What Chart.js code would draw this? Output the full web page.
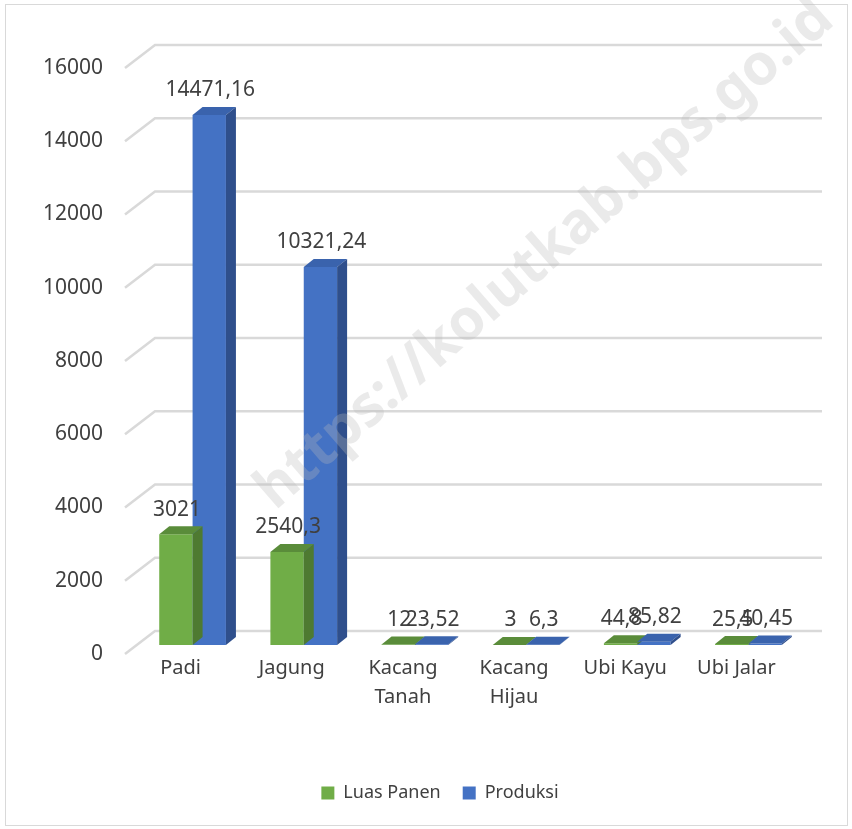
<!DOCTYPE html>
<html>
<head>
<meta charset="utf-8">
<script src="https://cdn.jsdelivr.net/npm/chart.js@4.4.1/dist/chart.umd.min.js"></script>
<style>
  html, body { margin: 0; padding: 0; background: #ffffff; }
  #wrap { width: 852px; height: 829px; }
</style>
</head>
<body>
<div id="wrap"><canvas id="grafico" width="852" height="829"></canvas></div>
<script>
// data
var kategori = [["Padi"], ["Jagung"], ["Kacang", "Tanah"], ["Kacang", "Hijau"], ["Ubi Kayu"], ["Ubi Jalar"]];
var luasPanen = [3021, 2540.3, 12, 3, 44.8, 25.5];
var produksi = [14471.16, 10321.24, 23.52, 6.3, 85.82, 40.45];
var tickY = [0, 2000, 4000, 6000, 8000, 10000, 12000, 14000, 16000];

var hijau = "#70ad47";
var biru = "#4472c4";
var teks = "#404040";
var huruf = "'Noto Sans', 'Open Sans', sans-serif";

// kedalaman 3D
var gridDX = 30, gridDY = 23;
var barDX = 10, barDY = 8;
var geserX = 12, geserY = -9;

function angka(v) {
    return String(v).replace(".", ",");
}

var efek3d = {
    id: "efek3d",
    beforeDraw: function (chart) {
        var ctx = chart.ctx;
        ctx.save();
        ctx.fillStyle = "#ffffff";
        ctx.fillRect(0, 0, chart.width, chart.height);
        ctx.strokeStyle = "#d9d9d9";
        ctx.lineWidth = 1;
        ctx.strokeRect(5.5, 4.5, 842, 821);
        ctx.restore();
    },
    beforeDatasetsDraw: function (chart) {
        // garis grid 3D
        var ctx = chart.ctx;
        var area = chart.chartArea;
        var sy = chart.scales.y;
        ctx.save();
        ctx.strokeStyle = "#d9d9d9";
        ctx.lineWidth = 2.5;
        tickY.forEach(function (t) {
            var y = sy.getPixelForValue(t);
            ctx.beginPath();
            ctx.moveTo(area.left, y);
            ctx.lineTo(area.left + gridDX, y - gridDY);
            ctx.lineTo(area.right + gridDX, y - gridDY);
            ctx.stroke();
        });
        ctx.restore();
        // geser batang ke tengah kedalaman
        ctx.save();
        ctx.translate(geserX, geserY);
    },
    afterDatasetsDraw: function (chart) {
        var ctx = chart.ctx;
        var sisiWarna = [["#5a8c3a", "#4e7a31"], ["#3a63ad", "#2f4f8c"]];
        chart.data.datasets.forEach(function (ds, di) {
            var meta = chart.getDatasetMeta(di);
            meta.data.forEach(function (bar, i) {
                var l = bar.x - bar.width / 2, r = bar.x + bar.width / 2;
                var top = bar.y, base = bar.base;
                // sisi atas
                ctx.fillStyle = sisiWarna[di][0];
                ctx.beginPath();
                ctx.moveTo(l, top);
                ctx.lineTo(l + barDX, top - barDY);
                ctx.lineTo(r + barDX, top - barDY);
                ctx.lineTo(r, top);
                ctx.closePath();
                ctx.fill();
                // sisi kanan
                ctx.fillStyle = sisiWarna[di][1];
                ctx.beginPath();
                ctx.moveTo(r, top);
                ctx.lineTo(r + barDX, top - barDY);
                ctx.lineTo(r + barDX, base - barDY);
                ctx.lineTo(r, base);
                ctx.closePath();
                ctx.fill();
            });
        });
        // label nilai
        chart.data.datasets.forEach(function (ds, di) {
            var meta = chart.getDatasetMeta(di);
            meta.data.forEach(function (bar, i) {
                ctx.fillStyle = teks;
                ctx.font = "21px " + huruf;
                ctx.textAlign = "center";
                ctx.textBaseline = "bottom";
                ctx.fillText(angka(ds.data[i]), bar.x + 1, bar.y - barDY - 6);
            });
        });
        ctx.restore();
    },
    afterDraw: function (chart) {
        // watermark
        var ctx = chart.ctx;
        ctx.save();
        ctx.translate(545, 255);
        ctx.rotate(-41 * Math.PI / 180);
        ctx.fillStyle = "rgba(185,185,185,0.3)";
        ctx.font = "bold 57px " + huruf;
        ctx.textAlign = "center";
        ctx.textBaseline = "middle";
        ctx.fillText("https://kolutkab.bps.go.id", 0, 0);
        ctx.restore();
    }
};

var ctx1 = document.getElementById("grafico").getContext("2d");
window.myBar = new Chart(ctx1, {
    type: "bar",
    data: {
        labels: kategori,
        datasets: [
            { label: "Luas Panen", data: luasPanen, backgroundColor: hijau, borderWidth: 0 },
            { label: "Produksi", data: produksi, backgroundColor: biru, borderWidth: 0 }
        ]
    },
    plugins: [efek3d],
    options: {
        responsive: false,
        animation: false,
        devicePixelRatio: 1,
        layout: { padding: { top: 68, right: 0, bottom: 17, left: 28 } },
        datasets: { bar: { categoryPercentage: 0.6, barPercentage: 1 } },
        scales: {
            x: {
                grid: { display: false, drawTicks: false },
                border: { display: false },
                ticks: { color: teks, font: { family: huruf, size: 20, lineHeight: 1.45 }, padding: 0, maxRotation: 0, autoSkip: false },
                afterFit: function (s) { s.height = 108; }
            },
            y: {
                min: 0,
                max: 16000,
                grid: { display: false, drawTicks: false },
                border: { display: false },
                ticks: {
                    color: teks, font: { family: huruf, size: 21 }, padding: 22, stepSize: 2000,
                    callback: function (v) { return String(v); }
                },
                afterFit: function (s) { s.width = 97; }
            },
            kanan: {
                type: "linear",
                position: "right",
                grid: { display: false, drawTicks: false },
                border: { display: false },
                ticks: { display: false },
                afterFit: function (s) { s.width = 60; }
            }
        },
        plugins: {
            legend: {
                position: "bottom",
                labels: { color: teks, font: { family: huruf, size: 18 }, boxWidth: 13, boxHeight: 13, padding: 22 }
            },
            tooltip: { enabled: false }
        }
    }
});
</script>
</body>
</html>
